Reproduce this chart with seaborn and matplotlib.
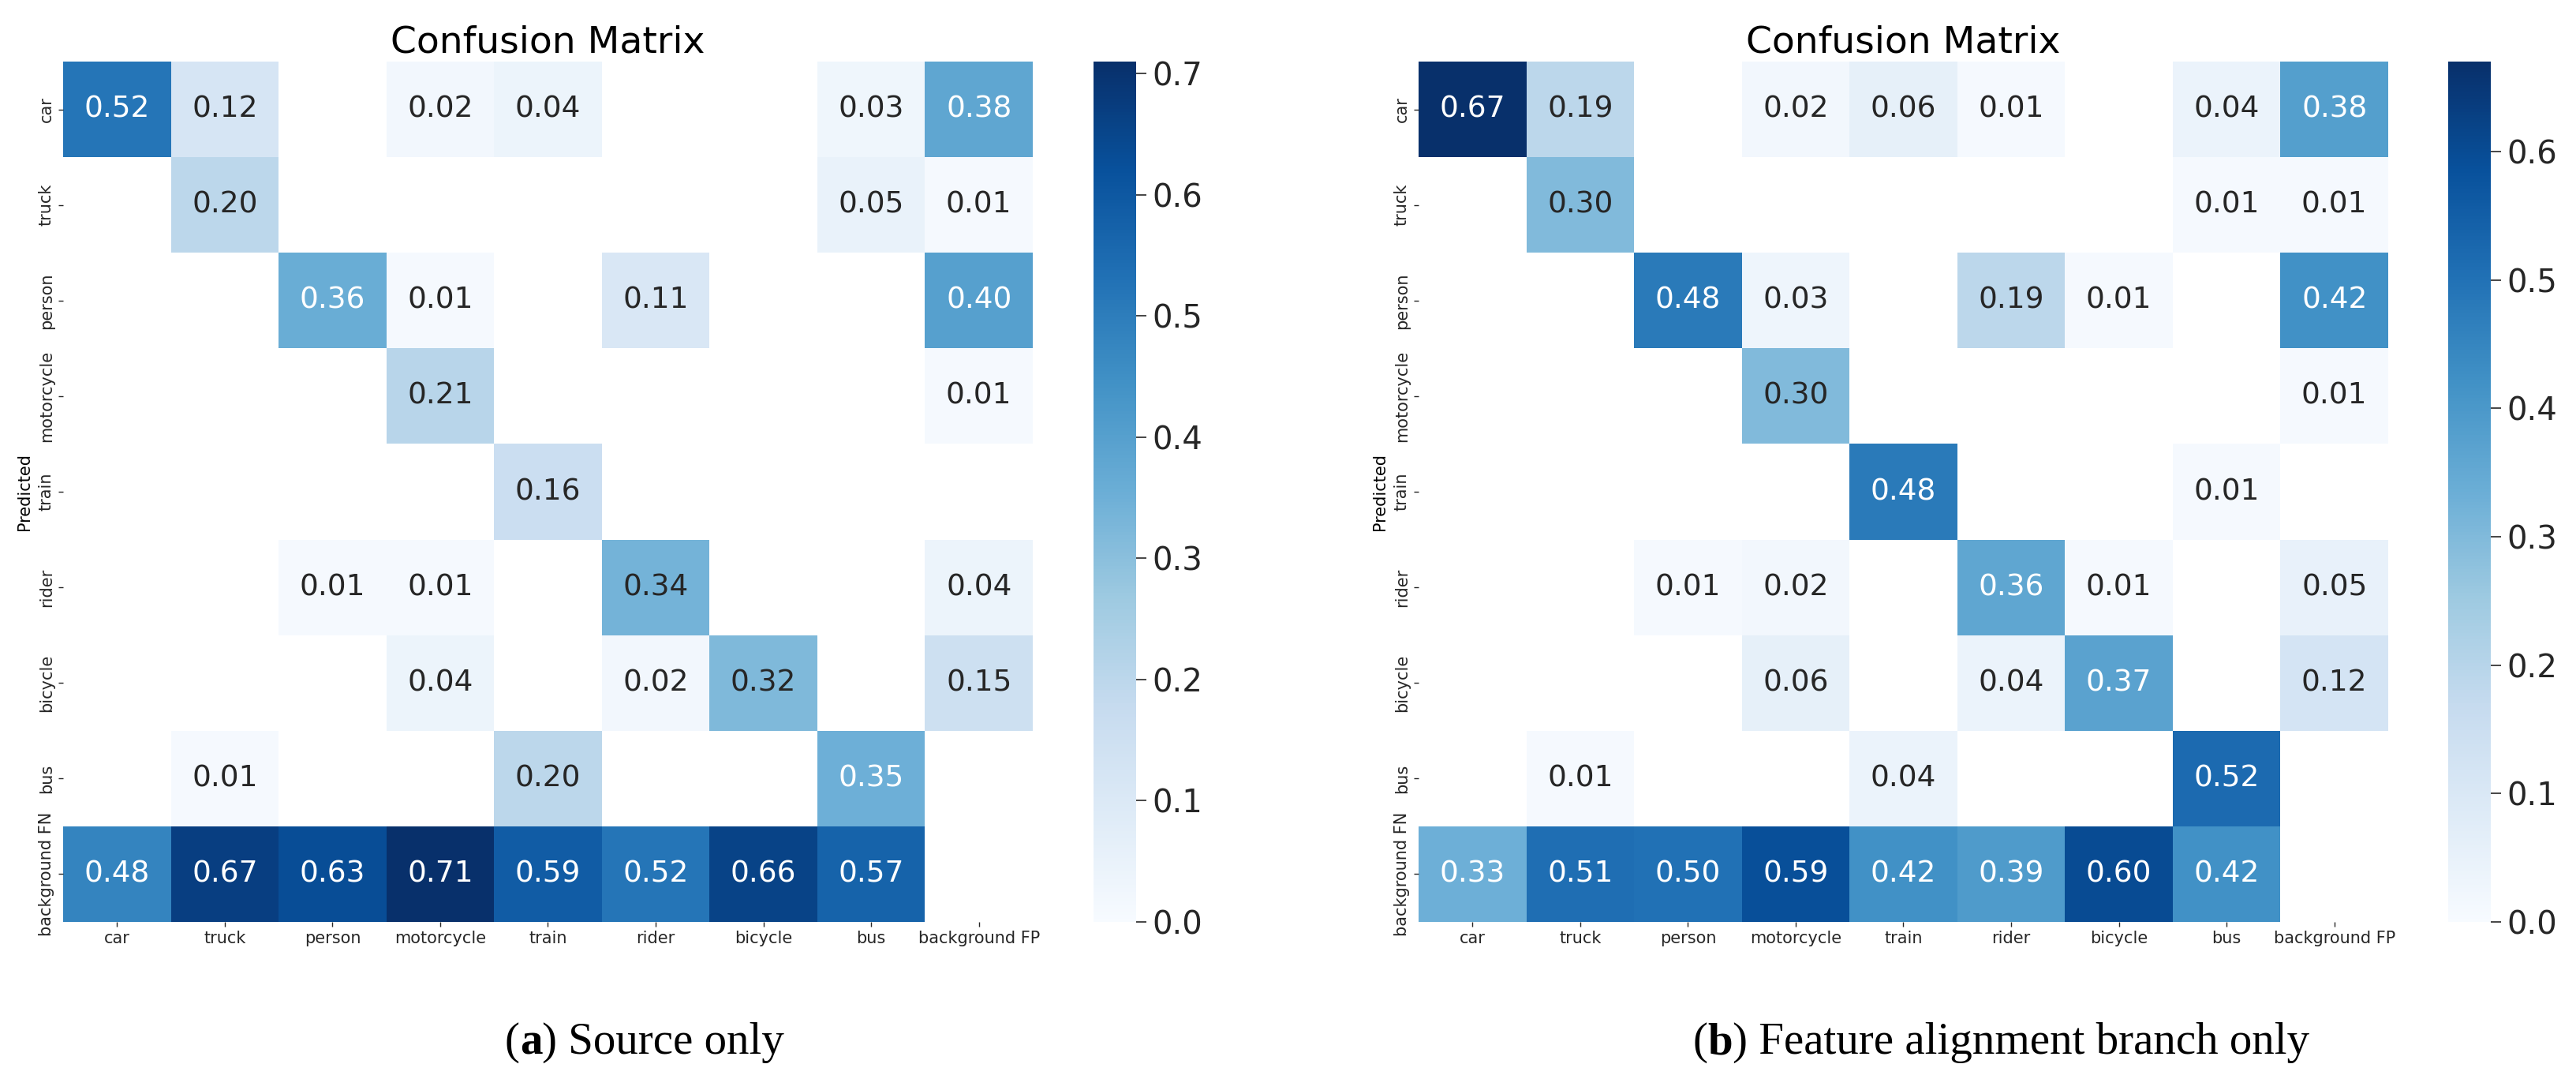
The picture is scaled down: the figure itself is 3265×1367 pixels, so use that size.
import numpy as np
import matplotlib
matplotlib.use("Agg")
import matplotlib.pyplot as plt
import seaborn as sns

# classes / labels
classes = ["car", "truck", "person", "motorcycle", "train", "rider", "bicycle", "bus"]
x_labels = classes + ["background FP"]
y_labels = classes + ["background FN"]

# rows = predicted, cols = true
source_only = [
    [0.52, 0.12, 0.00, 0.02, 0.04, 0.00, 0.00, 0.03, 0.38],
    [0.00, 0.20, 0.00, 0.00, 0.00, 0.00, 0.00, 0.05, 0.01],
    [0.00, 0.00, 0.36, 0.01, 0.00, 0.11, 0.00, 0.00, 0.40],
    [0.00, 0.00, 0.00, 0.21, 0.00, 0.00, 0.00, 0.00, 0.01],
    [0.00, 0.00, 0.00, 0.00, 0.16, 0.00, 0.00, 0.00, 0.00],
    [0.00, 0.00, 0.01, 0.01, 0.00, 0.34, 0.00, 0.00, 0.04],
    [0.00, 0.00, 0.00, 0.04, 0.00, 0.02, 0.32, 0.00, 0.15],
    [0.00, 0.01, 0.00, 0.00, 0.20, 0.00, 0.00, 0.35, 0.00],
    [0.48, 0.67, 0.63, 0.71, 0.59, 0.52, 0.66, 0.57, 0.00],
]

feature_alignment = [
    [0.67, 0.19, 0.00, 0.02, 0.06, 0.01, 0.00, 0.04, 0.38],
    [0.00, 0.30, 0.00, 0.00, 0.00, 0.00, 0.00, 0.01, 0.01],
    [0.00, 0.00, 0.48, 0.03, 0.00, 0.19, 0.01, 0.00, 0.42],
    [0.00, 0.00, 0.00, 0.30, 0.00, 0.00, 0.00, 0.00, 0.01],
    [0.00, 0.00, 0.00, 0.00, 0.48, 0.00, 0.00, 0.01, 0.00],
    [0.00, 0.00, 0.01, 0.02, 0.00, 0.36, 0.01, 0.00, 0.05],
    [0.00, 0.00, 0.00, 0.06, 0.00, 0.04, 0.37, 0.00, 0.12],
    [0.00, 0.01, 0.00, 0.00, 0.04, 0.00, 0.00, 0.52, 0.00],
    [0.33, 0.51, 0.50, 0.59, 0.42, 0.39, 0.60, 0.42, 0.00],
]

cbar_ticks_a = [0.0, 0.1, 0.2, 0.3, 0.4, 0.5, 0.6, 0.7]
cbar_ticks_b = [0.0, 0.1, 0.2, 0.3, 0.4, 0.5, 0.6]

captions = [("a", "Source only"), ("b", "Feature alignment branch only")]

W, H = 3266, 1367
DPI = 100


def px_rect(x0, y0, x1, y1):
    """pixel box (top-left origin) -> figure fraction rect"""
    return [x0 / W, 1 - y1 / H, (x1 - x0) / W, (y1 - y0) / H]


def draw_matrix(fig, data, hm_box, cb_box, ticks):
    arr = np.array(data)
    ax = fig.add_axes(px_rect(*hm_box))
    cax = fig.add_axes(px_rect(*cb_box))
    sns.heatmap(arr, ax=ax, cbar_ax=cax, mask=arr < 0.005, cmap="Blues",
                vmin=0.0, annot=True, fmt=".2f", annot_kws={"size": 27},
                xticklabels=x_labels, yticklabels=y_labels, square=False)
    ax.set_title("Confusion Matrix", fontsize=34, pad=8)
    ax.set_ylabel("Predicted", fontsize=15, labelpad=6)
    ax.tick_params(axis="both", length=4.5, width=1, color="#262626",
                   labelsize=15, labelcolor="#262626")
    plt.setp(ax.get_xticklabels(), rotation=0)
    plt.setp(ax.get_yticklabels(), rotation=90, va="center")
    cax.set_yticks(ticks)
    cax.set_yticklabels([f"{t:.1f}" for t in ticks])
    cax.tick_params(length=9, width=1.2, color="#262626", labelsize=29,
                    labelcolor="#262626", pad=6)
    return ax


def draw_caption(fig, cx, letter, text, y=1335):
    """caption centred on cx, with only the panel letter in bold"""
    font = dict(fontsize=41, family=["Liberation Serif", "DejaVu Serif"])
    pieces = [("(", "normal"), (letter, "bold"), (") " + text, "normal")]
    renderer = fig.canvas.get_renderer()
    widths = []
    for piece, weight in pieces:
        t = fig.text(0, 0, piece, fontweight=weight, **font)
        widths.append(t.get_window_extent(renderer).width)
        t.remove()
    x = cx - sum(widths) / 2
    for (piece, weight), w in zip(pieces, widths):
        fig.text(x / W, 1 - y / H, piece, ha="left", va="baseline",
                 fontweight=weight, **font)
        x += w


fig = plt.figure(figsize=(W / DPI, H / DPI), dpi=DPI)

draw_matrix(fig, source_only, (80, 78, 1309, 1168), (1386, 78, 1440, 1168), cbar_ticks_a)
draw_matrix(fig, feature_alignment, (1798, 78, 3027, 1168), (3103, 78, 3157, 1168), cbar_ticks_b)

for cx, (letter, text) in zip([817, 2536], captions):
    draw_caption(fig, cx, letter, text)

fig.savefig("out.png", dpi=DPI)
